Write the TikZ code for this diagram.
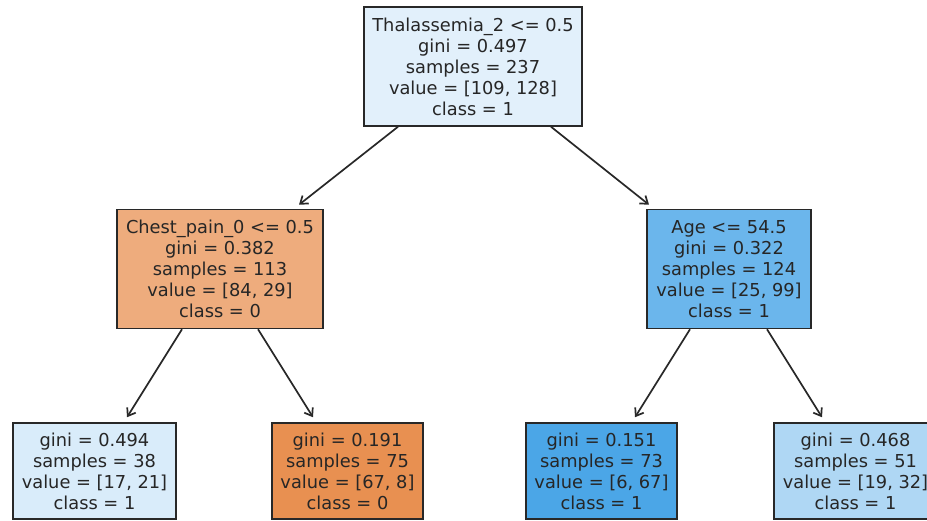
\documentclass[tikz,border=0pt]{standalone}
\usepackage{fontspec}
\setmainfont{DejaVu Sans}
\usetikzlibrary{arrows.meta,calc}
\definecolor{cRoot}{RGB}{226,240,251}
\definecolor{cChest}{RGB}{238,172,125}
\definecolor{cAge}{RGB}{107,182,236}
\definecolor{cLa}{RGB}{217,236,250}
\definecolor{cLb}{RGB}{232,144,81}
\definecolor{cLc}{RGB}{75,166,231}
\definecolor{cLd}{RGB}{175,215,244}
\definecolor{edgegray}{RGB}{40,40,40}
\tikzset{
  treenode/.style={draw=edgegray, line width=1.5pt, align=center, inner sep=0pt,
    font=\fontsize{17.8}{21}\selectfont, text=black!85},
  splitnode/.style={treenode, minimum height=119pt},
  leafnode/.style={treenode, minimum height=96pt},
  edgearrow/.style={draw=edgegray, line width=1.7pt, -{Straight Barb[length=7pt,width=10pt,line width=1.7pt]}}
}
\begin{document}
\begin{tikzpicture}[x=1pt,y=-1pt]
\useasboundingbox (0,0) rectangle (927,521);
\fill[white] (0,0) rectangle (927,521);
\node[splitnode, fill=cRoot, minimum width=218pt] (root) at (473,66.5)
  {Thalassemia\_2 <= 0.5\\gini = 0.497\\samples = 237\\value = [109, 128]\\class = 1};
\node[splitnode, fill=cChest, minimum width=206pt] (chest) at (220,269)
  {Chest\_pain\_0 <= 0.5\\gini = 0.382\\samples = 113\\value = [84, 29]\\class = 0};
\node[splitnode, fill=cAge, minimum width=164pt] (age) at (729,269)
  {Age <= 54.5\\gini = 0.322\\samples = 124\\value = [25, 99]\\class = 1};
\node[leafnode, fill=cLa, minimum width=163pt] (la) at (94.5,471)
  {gini = 0.494\\samples = 38\\value = [17, 21]\\class = 1};
\node[leafnode, fill=cLb, minimum width=151pt] (lb) at (347.5,471)
  {gini = 0.191\\samples = 75\\value = [67, 8]\\class = 0};
\node[leafnode, fill=cLc, minimum width=151pt] (lc) at (601.5,471)
  {gini = 0.151\\samples = 73\\value = [6, 67]\\class = 1};
\node[leafnode, fill=cLd, minimum width=163pt] (ld) at (855.5,471)
  {gini = 0.468\\samples = 51\\value = [19, 32]\\class = 1};
\draw[edgearrow] ($(root.south)+(-75,0)$) -- ($(chest.north)+(79,-4)$);
\draw[edgearrow] ($(root.south)+(78,0)$) -- ($(age.north)+(-80,-4)$);
\draw[edgearrow] ($(chest.south)+(-38,0)$) -- ($(la.north)+(32.5,-5)$);
\draw[edgearrow] ($(chest.south)+(38,0)$) -- ($(lb.north)+(-34.5,-5)$);
\draw[edgearrow] ($(age.south)+(-39,0)$) -- ($(lc.north)+(33.5,-5)$);
\draw[edgearrow] ($(age.south)+(38,0)$) -- ($(ld.north)+(-33.5,-5)$);
\end{tikzpicture}
\end{document}
